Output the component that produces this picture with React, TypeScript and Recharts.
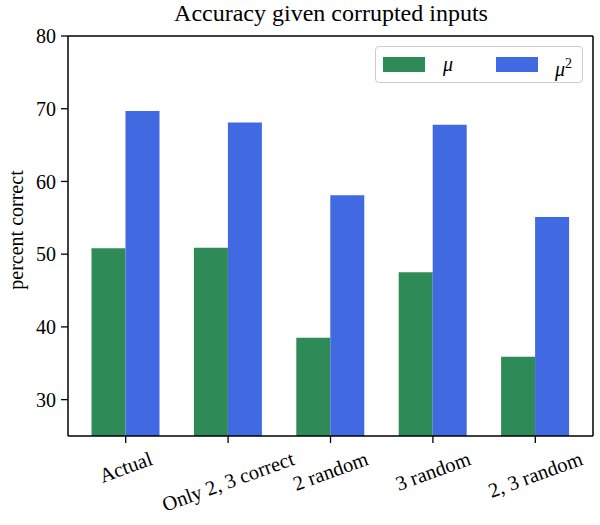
import { ComposedChart, Bar, Line, XAxis, YAxis, Legend } from 'recharts'

const categories = ['Actual', 'Only 2, 3 correct', '2 random', '3 random', '2, 3 random']
const muValues = [50.8, 50.9, 38.5, 47.5, 35.9]
const mu2Values = [69.7, 68.1, 58.1, 67.8, 55.1]
const yTicks = [30, 40, 50, 60, 70, 80]

const data = categories.map((name, i) => ({ name, mu: muValues[i], mu2: mu2Values[i] }))

const FONT = '"Liberation Serif", "Times New Roman", serif'
const TICK_FONT_SIZE = 20
const XTICK_FONT_SIZE = 20.5

let measureCtx: CanvasRenderingContext2D | null = null
function textWidth(s: string, size: number): number {
  if (!measureCtx) measureCtx = document.createElement('canvas').getContext('2d')
  if (!measureCtx) return s.length * size * 0.45
  measureCtx.font = `${size}px ${FONT}`
  return measureCtx.measureText(s).width
}

// rotated label, centred on the tick, with the top of its box at y (like matplotlib ha=center)
function XTick(props: any) {
  const { x, y, payload } = props
  const label = String(payload.value)
  const w = textWidth(label, XTICK_FONT_SIZE)
  const h = XTICK_FONT_SIZE * 0.8
  const a = (20 * Math.PI) / 180
  const cy = y + (w / 2) * Math.sin(a) + (h / 2) * Math.cos(a)
  return (
    <text
      x={x}
      y={cy}
      transform={`rotate(-20 ${x} ${cy})`}
      textAnchor="middle"
      dominantBaseline="central"
      fontFamily={FONT}
      fontSize={XTICK_FONT_SIZE}
      fill="#000"
    >
      {label}
    </text>
  )
}

function renderLegend(props: any) {
  const items = (props.payload || []).filter((p: any) => p.type !== 'none')
  return (
    <div
      style={{
        width: 208,
        height: 37,
        boxSizing: 'border-box',
        border: '1.5px solid #cccccc',
        borderRadius: 4,
        background: 'rgba(255,255,255,0.8)',
        position: 'relative',
      }}
    >
      {items.map((entry: any, i: number) => (
        <div key={entry.value}>
          <div
            style={{
              position: 'absolute',
              left: 7 + i * 113,
              top: 10,
              width: 42,
              height: 15,
              background: entry.color,
            }}
          />
          <div
            style={{
              position: 'absolute',
              left: 67 + i * 112,
              top: 3,
              fontFamily: FONT,
              fontSize: 20,
              fontStyle: 'italic',
              lineHeight: '28px',
            }}
          >
            μ{entry.dataKey === 'mu2' ? <sup style={{ fontStyle: 'normal', fontSize: 14 }}>2</sup> : null}
          </div>
        </div>
      ))}
    </div>
  )
}

export default function App() {
  return (
    <div style={{ position: 'absolute', left: 0, top: 0, width: 600, height: 525, background: '#fff' }}>
      <div
        style={{
          position: 'absolute',
          left: 0,
          top: -2,
          width: 662,
          textAlign: 'center',
          fontFamily: FONT,
          fontSize: 24,
          lineHeight: '30px',
        }}
      >
        Accuracy given corrupted inputs
      </div>
      <ComposedChart
        width={600}
        height={525}
        data={data}
        margin={{ top: 35, right: 6, left: 0, bottom: 0 }}
        barGap={0}
      >
        <XAxis
          dataKey="name"
          height={89}
          interval={0}
          padding={{ left: 6.5, right: 6.5 }}
          tickSize={7}
          tickMargin={7}
          tick={<XTick />}
          axisLine={{ stroke: '#000', strokeWidth: 1.5 }}
          tickLine={{ stroke: '#000', strokeWidth: 1.3 }}
        />
        <XAxis
          xAxisId="top"
          dataKey="name"
          orientation="top"
          height={1}
          tick={false}
          tickLine={false}
          axisLine={{ stroke: '#000', strokeWidth: 1.5 }}
        />
        <YAxis
          type="number"
          domain={[25, 80]}
          ticks={yTicks}
          allowDataOverflow
          width={68}
          interval={0}
          tickSize={7}
          tickMargin={5}
          tick={{ fontFamily: FONT, fontSize: TICK_FONT_SIZE, fill: '#000' }}
          axisLine={{ stroke: '#000', strokeWidth: 1.5 }}
          tickLine={{ stroke: '#000', strokeWidth: 1.3 }}
          label={{
            value: 'percent correct',
            content: () => (
              <text
                x={16}
                y={230}
                transform="rotate(-90 16 230)"
                textAnchor="middle"
                dominantBaseline="central"
                fontFamily={FONT}
                fontSize={TICK_FONT_SIZE}
                fill="#000"
              >
                percent correct
              </text>
            ),
          }}
        />
        <YAxis
          yAxisId="right"
          orientation="right"
          type="number"
          domain={[25, 80]}
          allowDataOverflow
          width={1}
          tick={false}
          tickLine={false}
          axisLine={{ stroke: '#000', strokeWidth: 1.5 }}
        />
        <Legend
          layout="horizontal"
          verticalAlign="middle"
          align="center"
          content={renderLegend}
          wrapperStyle={{ left: 375, top: 46, width: 208, height: 37 }}
        />
        <Bar dataKey="mu" name="μ" fill="#2e8b57" barSize={34} isAnimationActive={false} />
        <Bar dataKey="mu2" name="μ²" fill="#4169e1" barSize={34} isAnimationActive={false} />
        {/* invisible series so the top and right frame axes get drawn */}
        <Line
          xAxisId="top"
          yAxisId="right"
          dataKey="mu"
          stroke="none"
          dot={false}
          activeDot={false}
          legendType="none"
          isAnimationActive={false}
        />
      </ComposedChart>
    </div>
  )
}
